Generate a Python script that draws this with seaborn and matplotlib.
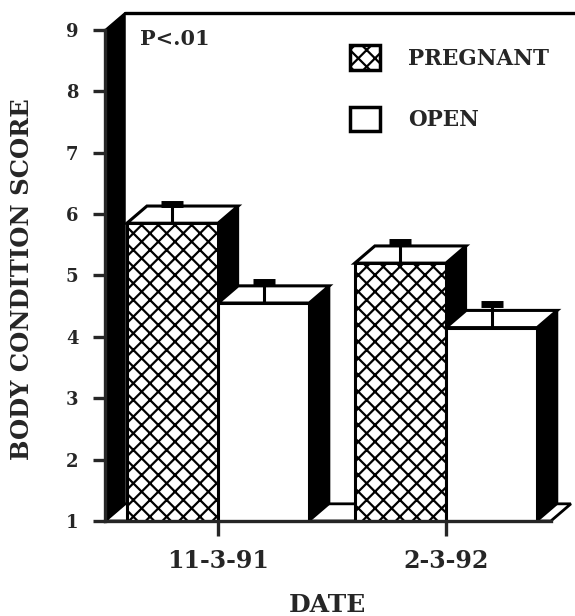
import pandas as pd
import matplotlib
matplotlib.use("Agg")
import matplotlib.pyplot as plt
from matplotlib.patches import Polygon, Patch
import seaborn as sns

# values
dates = ["11-3-91", "2-3-92"]
groups = ["PREGNANT", "OPEN"]
pregnant_bcs = [5.85, 5.20]
open_bcs = [4.55, 4.15]
pregnant_se = [0.32, 0.35]
open_se = [0.35, 0.38]

df = pd.DataFrame({
    "date": dates * 2,
    "group": [groups[0]] * 2 + [groups[1]] * 2,
    "bcs": pregnant_bcs + open_bcs,
    "se": pregnant_se + open_se,
})

sns.set_style("ticks")
plt.rcParams["font.family"] = ["DejaVu Serif"]
plt.rcParams["font.weight"] = "bold"
plt.rcParams["hatch.linewidth"] = 1.6
plt.rcParams["hatch.color"] = "black"

fig = plt.figure(figsize=(5.75, 6.16), dpi=100)
ax = fig.add_axes([0.1826, 0.1542, 0.8174, 0.8273])

sns.barplot(data=df, x="date", y="bcs", hue="group", order=dates, hue_order=groups,
            palette=["white", "white"], edgecolor="black", linewidth=2.2,
            errorbar=None, legend=False, ax=ax, zorder=3)

hatch = "xx"
for bar in ax.containers[0]:
    bar.set_hatch(hatch)

# axis ranges (front plane) and the fake 3D depth
x_left, x_right = -0.496, 1.46
base, y_top = 1, 9
dx, dy = 0.088, 0.28
ax.set_xlim(x_left, 1.566)
ax.set_ylim(base, 9.3)

# floor and the black left wall
ax.add_patch(Polygon([(x_left, base), (x_right, base), (x_right + dx, base + dy),
                      (x_left + dx, base + dy)], closed=True, facecolor="white",
                     edgecolor="black", lw=2, zorder=1))
ax.add_patch(Polygon([(x_left, base), (x_left, y_top), (x_left + dx, y_top + dy),
                      (x_left + dx, base + dy)], closed=True, facecolor="black",
                     edgecolor="black", lw=1, zorder=1.5))
ax.plot([x_left + dx, 1.566], [y_top + dy, y_top + dy], color="black", lw=2.4,
        clip_on=False, zorder=1.5)

# side and top faces of each bar, then error bars on the front
for cont, ses in zip(ax.containers, [pregnant_se, open_se]):
    for bar, se in zip(cont, ses):
        x0 = bar.get_x()
        x1 = x0 + bar.get_width()
        top = bar.get_height()
        ax.add_patch(Polygon([(x1, base), (x1, top), (x1 + dx, top + dy), (x1 + dx, base + dy)],
                             closed=True, facecolor="black", edgecolor="black", lw=1.5, zorder=2))
        ax.add_patch(Polygon([(x0, top), (x1, top), (x1 + dx, top + dy), (x0 + dx, top + dy)],
                             closed=True, facecolor="white", edgecolor="black", lw=2.2, zorder=2))
        eb = ax.errorbar(x0 + bar.get_width() / 2, top, yerr=[[0], [se]], fmt="none",
                         ecolor="black", elinewidth=2.2, capsize=8, capthick=5, zorder=4)
        eb[1][0].set_visible(False)  # only the upper cap

sns.despine(ax=ax)
ax.spines["left"].set_bounds(base, y_top)
ax.spines["bottom"].set_bounds(x_left, x_right)
for side in ["left", "bottom"]:
    ax.spines[side].set_linewidth(2.4)
    ax.spines[side].set_zorder(5)

ax.set_yticks(range(1, 10))
ax.tick_params(axis="y", length=9, width=2.4, labelsize=13, pad=10)
ax.tick_params(axis="x", length=11, width=2.4, labelsize=17, pad=9)

ax.set_ylabel("BODY CONDITION SCORE", fontsize=17.5, fontweight="bold")
ax.yaxis.set_label_coords(-0.15, 0.475)
ax.set_xlabel("DATE", fontsize=18, fontweight="bold")
ax.xaxis.set_label_coords(0.474, -0.142)

ax.text(-0.342, 8.85, "P<.01", fontsize=15, fontweight="bold", va="center", ha="left")

handles = [Patch(facecolor="white", edgecolor="black", hatch=hatch, lw=2.5),
           Patch(facecolor="white", edgecolor="black", lw=2.5)]
ax.legend(handles, groups, loc="upper left", bbox_to_anchor=(0.48, 0.972), frameon=False,
          prop={"size": 15.5, "weight": "bold"}, handlelength=1.4, handleheight=1.4,
          handletextpad=1.3, labelspacing=1.7)

fig.savefig("out.png", dpi=100)
